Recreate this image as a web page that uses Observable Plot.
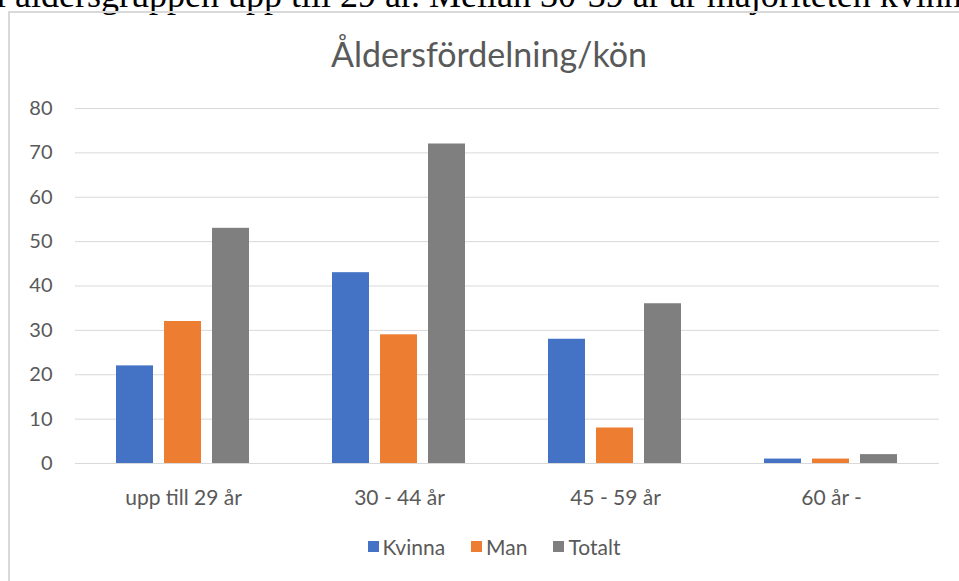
<!DOCTYPE html>
<html>
<head>
<meta charset="utf-8">
<script src="https://cdn.jsdelivr.net/npm/d3@7"></script>
<script src="https://cdn.jsdelivr.net/npm/@observablehq/plot@0.6"></script>
<style>
  html, body { margin: 0; padding: 0; background: #fff; overflow: hidden; }
  #wrap { position: relative; width: 959px; height: 581px; overflow: hidden; font-family: Lato, "Open Sans", sans-serif; }
  #toptext { position: absolute; left: -4px; top: -23px; line-height: 1; white-space: nowrap; font-family: "Liberation Serif", "DejaVu Serif", serif; font-size: 36px; color: #000; }
  #frame { position: absolute; left: 8px; top: 11px; width: 1000px; height: 700px; border: 2px solid #d9d9d9; box-sizing: border-box; }
  #title { position: absolute; left: 0; width: 978px; top: 33px; text-align: center; font-size: 34px; color: #595959; }
  #chart { position: absolute; left: 0; top: 0; }
  #legend { position: absolute; left: 0; width: 988px; top: 534px; display: flex; justify-content: center; gap: 26px; font-size: 21px; color: #595959; }
  .li { display: flex; align-items: center; gap: 4px; }
  .sw { width: 11px; height: 11px; display: inline-block; }
</style>
</head>
<body>
<div id="wrap">
  <div id="toptext">i åldersgruppen upp till 29 år. Mellan 30-39 år är majoriteten kvinnor</div>
  <div id="frame"></div>
  <div id="title">Åldersfördelning/kön</div>
  <div id="chart"></div>
  <div id="legend"></div>
</div>
<script>
const categories = ["upp till 29 år", "30 - 44 år", "45 - 59 år", "60 år -"];
const series = ["Kvinna", "Man", "Totalt"];
const kvinna = [22, 43, 28, 1];
const man = [32, 29, 8, 1];
const totalt = [53, 72, 36, 2];
const colors = ["#4472c4", "#ed7d31", "#7f7f7f"];
const yTicks = [0, 10, 20, 30, 40, 50, 60, 70, 80];

const values = [kvinna, man, totalt];
const data = [];
categories.forEach((c, i) => {
  series.forEach((s, j) => data.push({category: c, series: s, value: values[j][i]}));
});

const chart = Plot.plot({
  width: 959,
  height: 581,
  marginLeft: 73,
  marginRight: 19,
  marginTop: 108,
  marginBottom: 118,
  style: {fontFamily: "Lato, 'Open Sans', sans-serif", fontSize: "20px", color: "#595959", background: "transparent"},
  fx: {domain: categories, padding: 0, label: null, axis: null},
  x: {domain: series, paddingInner: 0.22, paddingOuter: 0.82, axis: null},
  y: {domain: [0, 80], axis: null},
  color: {domain: series, range: colors},
  marks: [
    Plot.ruleY(yTicks, {stroke: "#d9d9d9", strokeWidth: 1}),
    Plot.barY(data, {fx: "category", x: "series", y: "value", fill: "series"}),
    Plot.axisY(yTicks, {anchor: "left", tickSize: 0, tickPadding: 23, fontSize: 20, fill: "#595959", label: null}),
    Plot.axisFx({anchor: "bottom", tickSize: 0, tickPadding: 27, fontSize: 21, fill: "#595959", label: null})
  ]
});
document.getElementById("chart").appendChild(chart);

const legend = document.getElementById("legend");
series.forEach((s, j) => {
  const d = document.createElement("div");
  d.className = "li";
  d.innerHTML = `<span class="sw" style="background:${colors[j]}"></span><span>${s}</span>`;
  legend.appendChild(d);
});
</script>
</body>
</html>
